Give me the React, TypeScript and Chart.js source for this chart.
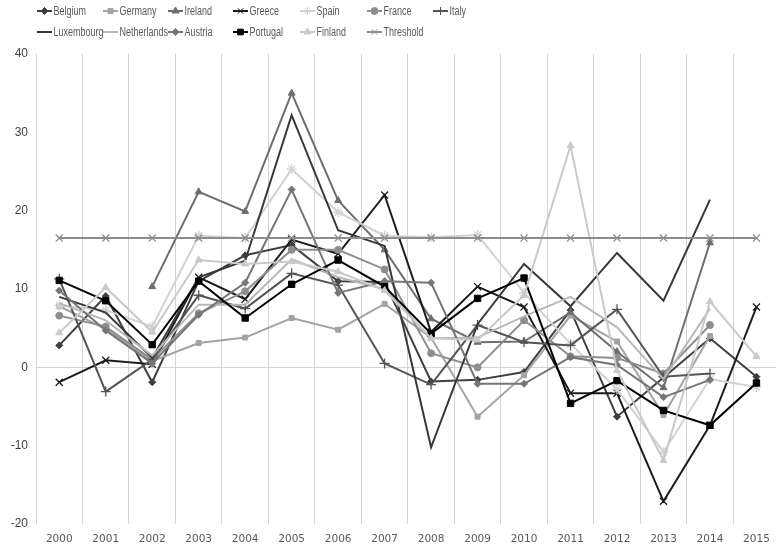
import React, { useEffect, useRef } from 'react';
import { Chart, registerables } from 'chart.js';
import { drawPoint } from 'chart.js/helpers';

Chart.register(...registerables);

const YEARS = ['2000','2001','2002','2003','2004','2005','2006','2007','2008','2009','2010','2011','2012','2013','2014','2015'];
const Y_MIN = -20;
const Y_MAX = 40;
const Y_STEP = 10;

const SERIES_NAMES = ['Belgium','Germany','Ireland','Greece','Spain','France','Italy','Luxembourg','Netherlands','Austria','Portugal','Finland','Threshold'];

const belgium = [2.8, 9.1, -1.9, 11.0, 14.3, 15.6, 11.0, 10.9, -1.8, -1.6, -0.6, 7.3, -6.3, -1.3, 3.7, -1.2];
const germany = [7.8, 4.9, 0.8, 3.1, 3.8, 6.3, 4.8, 8.1, 3.8, -6.3, -1.0, 6.6, 3.3, -6.1, 4.0, null];
const ireland = [null, null, 10.3, 22.4, 19.9, 35.0, 21.3, 15.0, 6.2, 3.2, 3.3, 7.0, 2.0, -2.6, 15.9, null];
const greece = [-1.9, 0.9, 0.4, 11.5, 8.7, 16.3, 14.5, 22.0, 4.5, 10.3, 7.7, -3.3, -3.3, -17.1, -7.4, 7.7];
const spain = [7.9, 7.3, 5.2, 16.8, 16.5, 25.3, 19.8, 16.8, 16.6, 16.9, 9.5, 3.0, -2.8, -10.8, -1.5, -2.5];
const france = [6.6, 5.2, 1.0, 6.9, 9.7, 15.0, 15.0, 12.5, 1.8, 0.0, 6.0, 1.4, 1.2, -0.8, 5.4, null];
const italy = [11.3, -3.1, 1.0, 9.2, 7.5, 12.0, 10.5, 0.5, -2.2, 5.4, 3.2, 2.8, 7.4, -1.2, -0.8, null];
const luxembourg = [9.0, 7.0, 1.2, 11.5, 13.6, 32.2, 17.5, 15.5, -10.2, 5.5, 13.2, 7.8, 14.6, 8.5, 21.4, null];
const netherlands = [8.2, 6.0, 1.5, 8.0, 8.0, 13.8, 11.5, 10.0, 3.7, 3.8, 6.5, 9.0, 5.1, -1.5, 7.5, null];
const austria = [9.8, 4.7, 0.5, 6.7, 10.8, 22.7, 9.5, 11.0, 10.8, -2.1, -2.1, 1.3, 0.3, -3.8, -1.6, null];
const portugal = [11.1, 8.5, 2.9, 11.0, 6.3, 10.6, 13.7, 10.3, 4.3, 8.8, 11.4, -4.6, -1.7, -5.5, -7.4, -2.0];
const finland = [4.4, 10.2, 4.5, 13.7, 13.2, 13.5, 12.2, 9.8, 3.7, 3.5, 9.2, 28.3, -0.4, -11.9, 8.4, 1.4];
const threshold = [16.5, 16.5, 16.5, 16.5, 16.5, 16.5, 16.5, 16.5, 16.5, 16.5, 16.5, 16.5, 16.5, 16.5, 16.5, 16.5];

const SERIES_VALUES = [belgium, germany, ireland, greece, spain, france, italy, luxembourg, netherlands, austria, portugal, finland, threshold];

const STYLES = [
  { color: '#3f3f3f', point: 'rectRot', r: 3.5 },
  { color: '#a3a3a3', point: 'rect', r: 3.5 },
  { color: '#6e6e6e', point: 'triangle', r: 4 },
  { color: '#1c1c1c', point: 'crossRot', r: 5 },
  { color: '#d2d2d2', point: 'star', r: 5 },
  { color: '#8e8e8e', point: 'circle', r: 3.5 },
  { color: '#545454', point: 'cross', r: 5 },
  { color: '#383838', point: false, r: 0 },
  { color: '#b8b8b8', point: false, r: 0 },
  { color: '#767676', point: 'rectRot', r: 3.5 },
  { color: '#000000', point: 'rect', r: 4.5 },
  { color: '#c9c9c9', point: 'triangle', r: 4 },
  { color: '#8c8c8c', point: 'crossRot', r: 5 },
];

const LEG_X = [37, 103, 168, 233, 300, 367, 433];
const LEG_Y = [11, 32];
const LABEL_FONT = '"Liberation Sans", Arial, sans-serif';
const TEXT_SQUEEZE = 0.72;

const legendPlugin = {
  id: 'customLegend',
  afterDraw(chart: any) {
    const ctx = chart.ctx;
    ctx.save();
    SERIES_NAMES.forEach((name, i) => {
      const row = i < 7 ? 0 : 1;
      const col = i < 7 ? i : i - 7;
      const x = LEG_X[col];
      const y = LEG_Y[row];
      const st = STYLES[i];
      ctx.strokeStyle = st.color;
      ctx.fillStyle = st.color;
      ctx.lineWidth = 2;
      ctx.beginPath();
      ctx.moveTo(x, y);
      ctx.lineTo(x + 15, y);
      ctx.stroke();
      if (st.point) {
        ctx.lineWidth = 1;
        drawPoint(ctx, { pointStyle: st.point, radius: Math.min(st.r, 4), rotation: 0, borderWidth: 1 }, x + 7.5, y);
      }
      ctx.save();
      ctx.fillStyle = '#595959';
      ctx.font = '12.5px ' + LABEL_FONT;
      ctx.textBaseline = 'middle';
      ctx.textAlign = 'left';
      ctx.translate(x + 16.5, y + 0.5);
      ctx.scale(TEXT_SQUEEZE, 1);
      ctx.fillText(name, 0, 0);
      ctx.restore();
    });
    ctx.restore();
  },
};

export default function App() {
  const ref = useRef<HTMLCanvasElement | null>(null);
  useEffect(() => {
    if (!ref.current) return;
    const datasets = SERIES_NAMES.map((name, i) => {
      const st = STYLES[i];
      return {
        label: name,
        data: SERIES_VALUES[i],
        borderColor: st.color,
        backgroundColor: st.color,
        borderWidth: 2,
        pointStyle: st.point,
        pointRadius: st.r,
        pointBorderWidth: st.point === 'crossRot' || st.point === 'cross' || st.point === 'star' ? 1.3 : 1,
        pointBorderColor: st.color,
        pointBackgroundColor: st.color,
        tension: 0,
        spanGaps: false,
        fill: false,
        order: SERIES_NAMES.length - i,
      };
    });
    const chart = new Chart(ref.current, {
      type: 'line',
      data: { labels: YEARS, datasets },
      plugins: [legendPlugin],
      options: {
        responsive: false,
        animation: false,
        layout: { padding: { top: 54, left: 0, right: 2, bottom: 0 } },
        plugins: { legend: { display: false }, tooltip: { enabled: false } },
        scales: {
          x: {
            offset: true,
            grid: { offset: true, color: '#d4d4d4', lineWidth: 1, drawTicks: false },
            border: { display: false },
            ticks: {
              padding: 9,
              color: '#595959',
              font: { family: '"DejaVu Sans", Verdana, sans-serif', size: 10.5 },
              maxRotation: 0,
              autoSkip: false,
            },
            afterFit: (s: any) => { s.height = 28; },
          },
          y: {
            min: Y_MIN,
            max: Y_MAX,
            ticks: {
              stepSize: Y_STEP,
              padding: 8,
              color: '#404040',
              font: { family: '"Liberation Sans", Arial, sans-serif', size: 12 },
            },
            grid: {
              drawTicks: false,
              color: (c: any) => (c.tick && c.tick.value === 0 ? '#d4d4d4' : 'rgba(0,0,0,0)'),
            },
            border: { display: false },
            afterFit: (s: any) => { s.width = 36; },
          },
        },
      },
    });
    return () => chart.destroy();
  }, []);
  return (
    <div style={{ position: 'fixed', left: 0, top: 0, width: 786, height: 552, background: '#ffffff' }}>
      <canvas ref={ref} width={786} height={552} style={{ display: 'block' }} />
    </div>
  );
}
